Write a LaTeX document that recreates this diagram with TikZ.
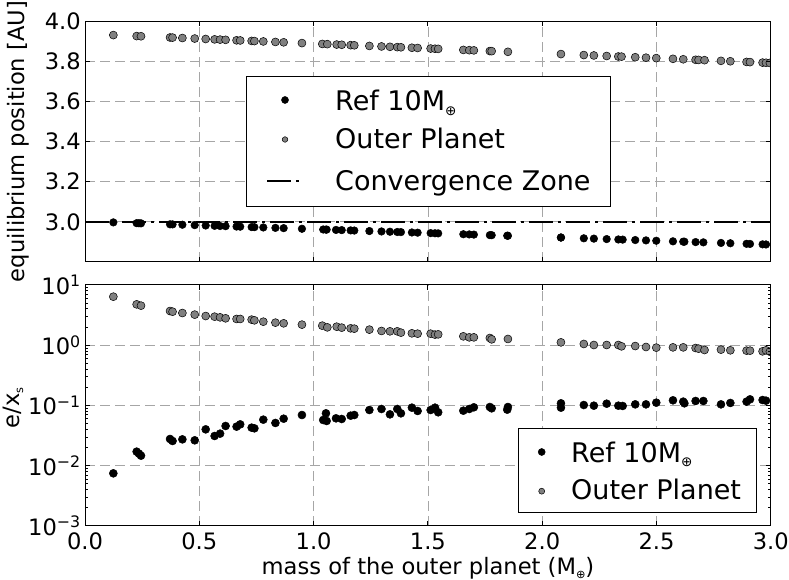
\documentclass[tikz,border=0pt]{standalone}
\usepackage{fontspec}
\setmainfont{DejaVu Sans}
\usepackage{graphicx}
\usepackage{tikz}
\newcommand{\xunit}{228.6pt}
\newcommand{\topunit}{200.8pt}
\newcommand{\logunit}{60.25pt}
\newcommand{\smallsub}[1]{\raisebox{-0.3ex}{\scalebox{0.5}{#1}}}
\colorlet{gridgray}{black!35}
\colorlet{outergray}{black!50}
\tikzset{
    gridsty/.style={draw=gridgray, line width=0.7pt, dash pattern=on 10pt off 5pt},
    spinesty/.style={draw=black, line width=1pt},
    refsty/.style={fill=black, draw=black, line width=0.5pt},
    outersty/.style={fill=outergray, draw=black, line width=0.5pt},
    convsty/.style={draw=black, line width=2.6pt, dash pattern=on 24pt off 5pt on 3pt off 5pt},
    legsty/.style={draw=black, fill=white, line width=1pt},
    ticklabsty/.style={font=\fontsize{22.6}{27}\selectfont, inner sep=0pt},
    legtextsty/.style={font=\fontsize{27}{32}\selectfont, inner sep=0pt, anchor=base west},
}
\newcommand{\outerdata}{0.124/0.806, 0.226/0.679, 0.245/0.657, 0.372/0.568, 0.383/0.557,
  0.426/0.535, 0.480/0.508, 0.528/0.485, 0.567/0.474, 0.591/0.463, 0.615/0.447, 0.663/0.436,
  0.679/0.436, 0.729/0.425, 0.741/0.414, 0.780/0.391, 0.833/0.375, 0.869/0.364, 0.949/0.342,
  1.038/0.325, 1.060/0.297, 1.101/0.308, 1.123/0.292, 1.162/0.281, 1.178/0.275, 1.244/0.259,
  1.297/0.237, 1.334/0.231, 1.366/0.231, 1.382/0.209, 1.430/0.198, 1.455/0.192, 1.512/0.192,
  1.531/0.176, 1.545/0.181, 1.655/0.148, 1.681/0.131, 1.701/0.131, 1.771/0.120, 1.779/0.098,
  1.850/0.104, 2.082/0.048, 2.182/0.021, 2.226/0.004, 2.282/0.004, 2.333/0.004, 2.347/-0.018,
  2.407/-0.013, 2.454/-0.029, 2.499/-0.040, 2.572/-0.035, 2.617/-0.035, 2.671/-0.046,
  2.684/-0.057, 2.710/-0.079, 2.782/-0.073, 2.823/-0.084, 2.894/-0.090, 2.909/-0.090,
  2.964/-0.101, 2.979/-0.084, 2.996/-0.107}
\newcommand{\refdata}{0.124/-2.126, 0.226/-1.766, 0.236/-1.799, 0.245/-1.833, 0.372/-1.556,
  0.383/-1.589, 0.426/-1.562, 0.480/-1.578, 0.528/-1.396, 0.567/-1.506, 0.591/-1.467,
  0.615/-1.340, 0.663/-1.351, 0.679/-1.313, 0.729/-1.368, 0.741/-1.379, 0.780/-1.235,
  0.833/-1.290, 0.869/-1.219, 0.949/-1.158, 1.042/-1.241, 1.054/-1.130, 1.057/-1.257,
  1.098/-1.213, 1.123/-1.224, 1.162/-1.169, 1.178/-1.158, 1.244/-1.075, 1.297/-1.058,
  1.334/-1.147, 1.366/-1.058, 1.382/-1.130, 1.430/-1.036, 1.455/-1.091, 1.512/-1.075,
  1.531/-1.036, 1.545/-1.113, 1.655/-1.086, 1.681/-1.058, 1.701/-1.030, 1.771/-1.025,
  1.779/-1.047, 1.850/-1.025, 1.847/-1.069, 2.082/-0.964, 2.082/-1.036, 2.182/-0.992,
  2.226/-1.003, 2.282/-0.970, 2.333/-1.003, 2.352/-1.008, 2.407/-0.981, 2.454/-0.981,
  2.499/-0.953, 2.572/-0.914, 2.617/-0.936, 2.622/-0.964, 2.671/-0.925, 2.705/-0.925,
  2.782/-0.981, 2.823/-0.958, 2.894/-0.936, 2.909/-0.898, 2.964/-0.909, 2.979/-0.920}

\begin{document}
\begin{tikzpicture}[x=1pt,y=1pt]
\useasboundingbox (0,0) rectangle (789,580);

\begin{scope}[shift={(85,-244.24)}, x=\xunit, y=\topunit]
  \foreach \v in {3.0,3.2,3.4,3.6,3.8} \draw[gridsty] (0,\v) -- (3,\v);
  \foreach \m in {0.5,1.0,1.5,2.0,2.5} \draw[gridsty] (\m,2.8) -- (\m,4.0);
  \begin{scope}
    \clip (0,2.8) rectangle (3,4.0);
    \foreach \m/\l in \outerdata \path[outersty] (\m,{3.936-0.0483*\m}) circle[radius=4pt];
    \foreach \m/\l in \refdata \path[refsty] (\m,{3.002-0.0385*\m}) circle[radius=3.8pt];
    \draw[convsty] (0,3) -- (3,3);
  \end{scope}
  \foreach \v in {2.8,3.0,3.2,3.4,3.6,3.8,4.0} {
    \draw[spinesty] (0,\v) -- ++(5pt,0);
    \draw[spinesty] (3,\v) -- ++(-5pt,0);
  }
  \foreach \m in {0.5,1.0,1.5,2.0,2.5} {
    \draw[spinesty] (\m,2.8) -- ++(0,5pt);
    \draw[spinesty] (\m,4.0) -- ++(0,-5pt);
  }
  \draw[spinesty] (0,2.8) rectangle (3,4.0);
  \foreach \v [count=\i] in {3.0,3.2,3.4,3.6,3.8,4.0}
    \node[ticklabsty, anchor=east, xshift=-4pt] (ytop\i) at (0,\v) {\v};
\end{scope}

\begin{scope}[shift={(85,234.75)}, x=\xunit, y=\logunit]
  \foreach \l in {-2,-1,0} \draw[gridsty] (0,\l) -- (3,\l);
  \foreach \m in {0.5,1.0,1.5,2.0,2.5} \draw[gridsty] (\m,-3) -- (\m,1);
  \begin{scope}
    \clip (0,-3) rectangle (3,1);
    \foreach \m/\l in \outerdata \path[outersty] (\m,\l) circle[radius=4pt];
    \foreach \m/\l in \refdata \path[refsty] (\m,\l) circle[radius=4pt];
  \end{scope}
  \foreach \d in {-3,...,0} \foreach \k in {2,...,9} {
    \draw[spinesty] (0,{\d+log10(\k)}) -- ++(2.5pt,0);
    \draw[spinesty] (3,{\d+log10(\k)}) -- ++(-2.5pt,0);
  }
  \foreach \l in {-3,...,1} {
    \draw[spinesty] (0,\l) -- ++(5pt,0);
    \draw[spinesty] (3,\l) -- ++(-5pt,0);
  }
  \foreach \m in {0.5,1.0,1.5,2.0,2.5} {
    \draw[spinesty] (\m,-3) -- ++(0,5pt);
    \draw[spinesty] (\m,1) -- ++(0,-5pt);
  }
  \draw[spinesty] (0,-3) rectangle (3,1);
  \foreach \l/\t [count=\i] in {1/1,0/0,-1/−1,-2/−2,-3/−3}
    \node[ticklabsty, anchor=east, xshift=-4pt] (ybot\i) at (0,\l) {10\textsuperscript{\t}};
  \foreach \m [count=\i] in {0.0,0.5,1.0,1.5,2.0,2.5,3.0}
    \node[ticklabsty, anchor=base, yshift=-24pt] (xbot\i) at (\m,-3) {\m};
\end{scope}

\draw[legsty] (246.7,373.3) rectangle (610,503.3);
\path[refsty] (285,480) circle[radius=3.5pt];
\path[outersty] (285,440.5) circle[radius=2.8pt];
\draw[convsty] (267,398.8) -- (300,398.8);
\node[legtextsty] (legref) at (335,469.4) {Ref 10M\smallsub{⊕}};
\node[legtextsty] (legouter) at (335,431.2) {Outer Planet};
\node[legtextsty] (legconv) at (335,389.4) {Convergence Zone};

\draw[legsty] (518.3,67.7) rectangle (756.7,151.3);
\path[refsty] (541.7,128) circle[radius=3.5pt];
\path[outersty] (541.7,88.8) circle[radius=3pt];
\node[legtextsty] (legrefb) at (571,117.7) {Ref 10M\smallsub{⊕}};
\node[legtextsty] (legouterb) at (571,80.2) {Outer Planet};

\node[ticklabsty, rotate=90] (ylabtop) at (18,438.5) {equilibrium position [AU]};
\node[ticklabsty, rotate=90] (ylabbot) at (13,172) {e/x\smallsub{s}};
\node[ticklabsty, anchor=base] (xlab) at (428,5.5) {mass of the outer planet (M\smallsub{⊕})};
\end{tikzpicture}
\end{document}
